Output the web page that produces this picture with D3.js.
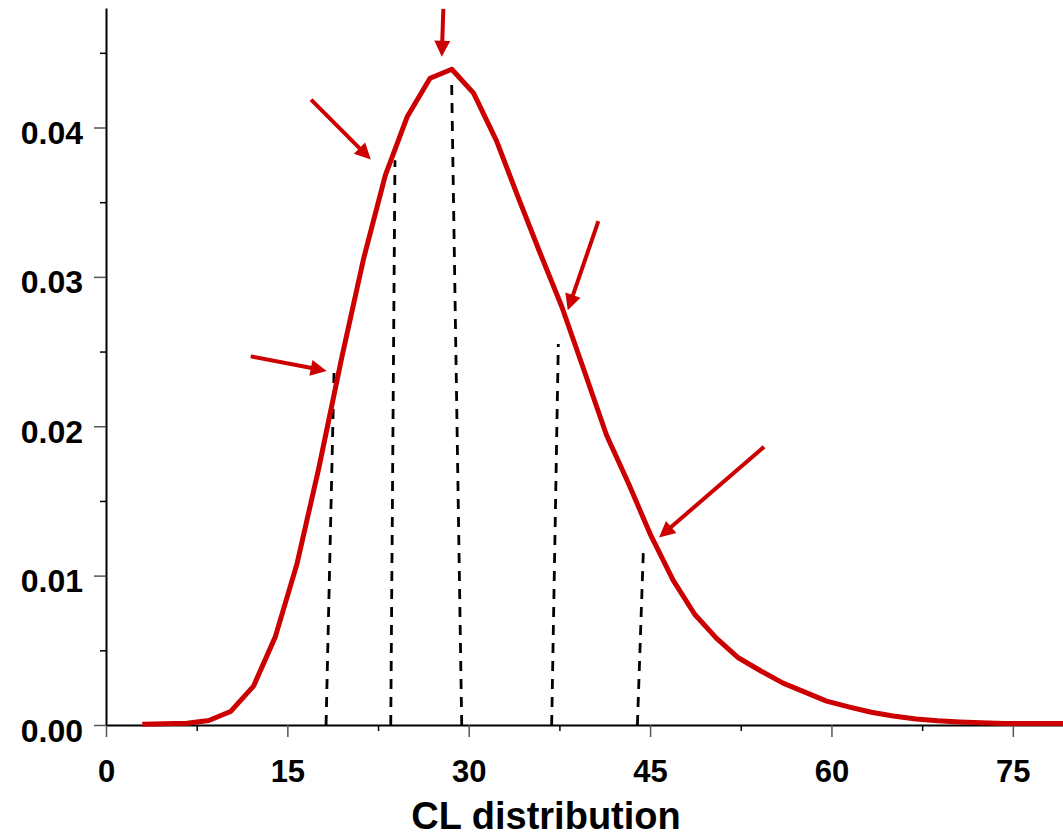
<!DOCTYPE html>
<html>
<head>
<meta charset="utf-8">
<script src="https://cdn.jsdelivr.net/npm/d3@7"></script>
<style>
  html, body { margin: 0; padding: 0; background: #fff; }
  svg { display: block; }
  text { font-family: "Liberation Sans", Arial, sans-serif; font-weight: bold; fill: #000; }
</style>
</head>
<body>
<div id="chart"></div>
<script>
// curve points (x = CL, y = density)
const clValues = [3.0, 4.8, 6.7, 8.5, 10.3, 12.2, 14.0, 15.8, 17.6, 19.5, 21.3, 23.1, 24.9, 26.8, 28.6, 30.4,
  32.3, 34.1, 35.9, 37.7, 39.6, 41.4, 43.2, 45.0, 46.9, 48.7, 50.5, 52.3, 54.2, 56.0, 57.8, 59.6,
  61.5, 63.3, 65.1, 67.0, 68.8, 70.6, 72.4, 74.3, 76.1, 77.9, 79.7]
const density = [0.00005, 0.00008, 0.00012, 0.0003, 0.0009, 0.0026, 0.0059, 0.0108, 0.0172, 0.0246, 0.0312, 0.0368,
  0.0407, 0.0433, 0.0439, 0.0423, 0.0391, 0.0353, 0.0316, 0.0280, 0.0236, 0.0194, 0.0162, 0.0128,
  0.0097, 0.0074, 0.0058, 0.0045, 0.0036, 0.0028, 0.0022, 0.0016, 0.0012, 0.00085, 0.0006, 0.0004,
  0.00028, 0.0002, 0.00015, 0.0001, 0.0001, 0.0001, 0.0001]

// axis ticks
const xTicks = [0, 15, 30, 45, 60, 75]
const xMinorTicks = [7.5, 22.5, 37.5, 52.5, 67.5]
const yTicks = [0, 0.01, 0.02, 0.03, 0.04]
const yMinorTicks = [0.005, 0.015, 0.025, 0.035, 0.045]

// dashed guide lines: bottom x, top x, top density
const guideBottomX = [18.2, 23.55, 29.42, 36.86, 43.95]
const guideTopX = [18.86, 23.9, 28.59, 37.41, 44.44]
const guideTopY = [0.0236, 0.0378, 0.0429, 0.0255, 0.0116]

// arrows: from (x, y) to tip (x, y)
const arrowFromX = [11.97, 16.96, 27.9, 40.72, 54.43]
const arrowFromY = [0.02468, 0.04187, 0.04794, 0.03373, 0.01862]
const arrowToX = [18.25, 21.9, 27.77, 38.19, 45.74]
const arrowToY = [0.0237, 0.03786, 0.04473, 0.02776, 0.01256]

const xLabel = "CL distribution"

const totalWidth = 1063
const totalHeight = 838
const margin = { top: 8, left: 106, bottom: 113, right: 0 }
const red = "#cc0000"

const svg = d3.select("div#chart").append("svg").attr("width", totalWidth).attr("height", totalHeight)

const x = d3.scaleLinear().domain([0, 79.15]).range([margin.left, totalWidth - margin.right])
const y = d3.scaleLinear().domain([0, 0.048]).range([totalHeight - margin.bottom, margin.top])
const y0 = y(0)

// x axis
const xAxisGroup = svg.append("g").attr("transform", `translate(0, ${y0})`)
xAxisGroup.call(d3.axisBottom(x).tickValues(xTicks).tickSize(12).tickSizeOuter(0).tickFormat(d3.format("d")))
xAxisGroup.select(".domain").attr("stroke", "#000").attr("stroke-width", 2)
xAxisGroup.selectAll(".tick line").attr("stroke", "#555").attr("stroke-width", 1.5)
xAxisGroup.selectAll(".tick text").attr("y", 57).attr("dy", 0).style("font-size", "31px")
const xMinor = svg.append("g").attr("transform", `translate(0, ${y0})`)
xMinor.call(d3.axisBottom(x).tickValues(xMinorTicks).tickSize(6).tickFormat(""))
xMinor.select(".domain").remove()
xMinor.selectAll(".tick line").attr("stroke", "#000").attr("stroke-width", 1.5)

// y axis
const yAxisGroup = svg.append("g").attr("transform", `translate(${margin.left}, 0)`)
yAxisGroup.call(d3.axisLeft(y).tickValues(yTicks).tickSize(12).tickSizeOuter(0).tickFormat(d3.format(".2f")))
yAxisGroup.select(".domain").attr("stroke", "#000").attr("stroke-width", 2)
yAxisGroup.selectAll(".tick line").attr("stroke", "#555").attr("stroke-width", 1.5)
yAxisGroup.selectAll(".tick text").attr("x", -23).attr("y", 16).attr("dy", 0).style("font-size", "32px")
const yMinor = svg.append("g").attr("transform", `translate(${margin.left}, 0)`)
yMinor.call(d3.axisLeft(y).tickValues(yMinorTicks).tickSize(6).tickFormat(""))
yMinor.select(".domain").remove()
yMinor.selectAll(".tick line").attr("stroke", "#000").attr("stroke-width", 1.5)
svg.selectAll(".tick text").attr("fill", "#000").style("font-family", "'Liberation Sans', Arial, sans-serif").style("font-weight", "bold")

// axis title
svg.append("text")
    .attr("x", 546)
    .attr("y", 829)
    .attr("text-anchor", "middle")
    .style("font-size", "38px")
    .text(xLabel)

// dashed guide lines (drawn from the axis upward)
const guides = guideBottomX.map((b, i) => ({ b: b, t: guideTopX[i], ty: guideTopY[i] }))
svg.append("g").selectAll("line").data(guides).join("line")
    .attr("x1", d => x(d.b))
    .attr("y1", y0)
    .attr("x2", d => x(d.t))
    .attr("y2", d => y(d.ty))
    .attr("stroke", "#000")
    .attr("stroke-width", 2.8)
    .attr("stroke-dasharray", "10,8")

// density curve
const points = clValues.map((c, i) => [c, density[i]])
svg.append("path")
    .datum(points)
    .attr("fill", "none")
    .attr("stroke", red)
    .attr("stroke-width", 5)
    .attr("stroke-linejoin", "round")
    .attr("d", d3.line().x(d => x(d[0])).y(d => y(d[1])))

// arrows
const headLen = 16, headHalf = 8
const arrowGroup = svg.append("g")
arrowFromX.forEach((fx, i) => {
    const x1 = x(fx), y1 = y(arrowFromY[i])
    const x2 = x(arrowToX[i]), y2 = y(arrowToY[i])
    const len = Math.hypot(x2 - x1, y2 - y1)
    const ux = (x2 - x1) / len, uy = (y2 - y1) / len
    const bx = x2 - ux * headLen, by = y2 - uy * headLen
    arrowGroup.append("line")
        .attr("x1", x1).attr("y1", y1)
        .attr("x2", x2 - ux * (headLen - 2)).attr("y2", y2 - uy * (headLen - 2))
        .attr("stroke", red)
        .attr("stroke-width", 4)
    arrowGroup.append("path")
        .attr("d", `M${x2},${y2}L${bx - uy * headHalf},${by + ux * headHalf}L${bx + uy * headHalf},${by - ux * headHalf}Z`)
        .attr("fill", red)
})
</script>
</body>
</html>
